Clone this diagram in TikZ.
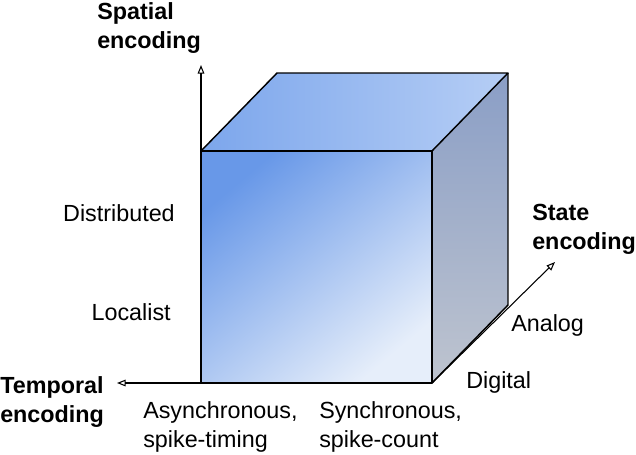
\documentclass[tikz,border=0pt]{standalone}
\usepackage{fontspec}
\setmainfont{Liberation Sans}
\usetikzlibrary{arrows.meta}
\definecolor{frontA}{HTML}{6898E8}
\definecolor{frontB}{HTML}{E6EEFA}
\definecolor{topA}{HTML}{7CA6EC}
\definecolor{topB}{HTML}{B6CEF5}
\definecolor{sideA}{HTML}{8A9EC6}
\definecolor{sideB}{HTML}{BEC4CF}
\tikzset{
  edge/.style={draw=black, line width=1.1pt, line join=round},
  axis/.style={draw=black, line width=0.8pt, -{Triangle[open,length=6.5pt,width=5pt]}},
  lbl/.style={inner sep=0pt, font=\fontsize{17.5}{21.5}\selectfont, align=left},
  ttl/.style={lbl, font=\fontsize{17.5}{21.5}\selectfont\bfseries}
}
\begin{document}
\begin{tikzpicture}[x=0.75pt, y=-0.75pt]
\useasboundingbox (0,0) rectangle (636,454);
% cube corners
\coordinate (FTL) at (201,151);
\coordinate (FTR) at (432,151);
\coordinate (FBL) at (201,383);
\coordinate (FBR) at (432,383);
\coordinate (BTL) at (277,73);
\coordinate (BTR) at (508,73);
\coordinate (BBR) at (508,305);
% axis ends
\coordinate (Yend) at (201,65);
\coordinate (Xend) at (117,383);
\coordinate (Zend) at (555,262);
% faces
\shade[top color=frontA, bottom color=frontB, middle color=frontA!50!frontB, shading angle=40] (FTL) -- (FTR) -- (FBR) -- (FBL) -- cycle;
\shade[left color=topA, right color=topB] (FTL) -- (BTL) -- (BTR) -- (FTR) -- cycle;
\shade[top color=sideA, bottom color=sideB] (FTR) -- (BTR) -- (BBR) -- (FBR) -- cycle;
\draw[edge] (FTL) -- (FTR) -- (FBR) -- (FBL) -- cycle;
\draw[edge] (FTL) -- (BTL) -- (BTR) -- (FTR);
\draw[edge] (BTR) -- (BBR) -- (FBR);
% axes
\draw[axis] (FTL) -- (Yend);
\draw[axis] (FBL) -- (Xend);
\draw[axis] (FBR) -- (Zend);
% labels
\node[ttl, anchor=west] (spatial) at (97,28) {Spatial\\encoding};
\node[lbl, anchor=east] (distributed) at (175,213) {Distributed};
\node[lbl, anchor=east] (localist) at (171,312) {Localist};
\node[ttl, anchor=west] (temporal) at (0,402) {Temporal\\encoding};
\node[lbl, anchor=west] (async) at (143,427) {Asynchronous,\\spike-timing};
\node[lbl, anchor=west] (sync) at (319,427) {Synchronous,\\spike-count};
\node[lbl, anchor=west] (digital) at (466,382) {Digital};
\node[lbl, anchor=west] (analog) at (511,325) {Analog};
\node[ttl, anchor=west] (state) at (532,229) {State\\encoding};
\end{tikzpicture}
\end{document}
